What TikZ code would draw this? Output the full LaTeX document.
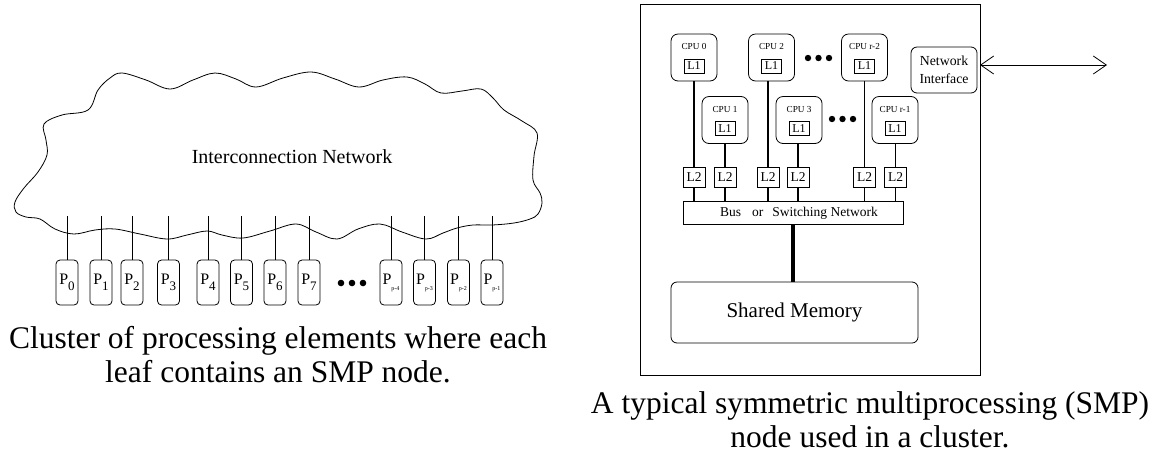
\documentclass[tikz,border=0pt]{standalone}
\usepackage{fontspec}
\setmainfont{Liberation Serif}
\usetikzlibrary{arrows.meta}

% font size helper (size = baselineskip)
\newcommand{\setfs}[1]{\fontsize{#1}{#1}\selectfont}
% processing element labels: P with a digit index or a small p-k index
\newcommand{\pdig}[1]{{\setfs{16}P}\raisebox{-6pt}{\setfs{13}#1}}
\newcommand{\pidx}[1]{{\setfs{16}P}\raisebox{-6pt}{\setfs{6}#1}}

\begin{document}
\begin{tikzpicture}[x=1pt,y=-1pt,
  every node/.style={inner sep=0pt, outer sep=0pt},
  pe/.style={draw, rounded corners=4pt, minimum width=22pt, minimum height=45pt, line width=0.8pt},
  cpu/.style={draw, rounded corners=7pt, minimum width=46pt, minimum height=47pt, line width=0.8pt},
  cpulabel/.style={font=\setfs{9.2}},
  l1box/.style={draw, minimum width=20pt, minimum height=14pt, font=\setfs{12}, line width=0.7pt},
  l2box/.style={draw, minimum width=22pt, minimum height=20pt, font=\setfs{13.5}, line width=0.7pt},
  link/.style={line width=1.8pt},
  tap/.style={line width=0.8pt},
  caption/.style={align=center, font=\fontsize{31.5}{34}\selectfont},
]
\useasboundingbox (0,0) rectangle (1158,456);

% ---------------- cluster: interconnection cloud ----------------
\draw[line width=0.8pt] plot[smooth cycle, tension=0.6] coordinates {
  (44,124) (62,115) (88,110) (98,90) (110,78) (122,73) (146,80) (170,89)
  (193,80) (215,73) (236,79) (256,87) (283,78) (311,72) (335,79) (359,87)
  (383,80) (407,77) (425,84) (441,93) (462,91) (481,89) (493,98) (504,110)
  (522,121) (537,133) (534,156) (533,180) (540,193) (542,203) (538,214)
  (530,219) (514,223) (492,225) (473,225) (457,228) (443,233) (426,239)
  (402,232) (380,224) (358,229) (337,239) (316,232) (296,224) (270,231)
  (243,238) (222,235) (207,231) (187,235) (167,239) (140,234) (115,229)
  (95,230) (74,234) (55,229) (40,219) (26,217) (16,212) (15,202) (24,188)
  (38,172) (47,155) (46,140)};
\node[font=\setfs{20}] (net) at (292,157) {Interconnection Network};

% processing elements and their taps into the network
\foreach \n/\x/\t in {0/67/\pdig{0}, 1/101/\pdig{1}, 2/132/\pdig{2}, 3/168.5/\pdig{3},
                      4/208/\pdig{4}, 5/241.5/\pdig{5}, 6/275/\pdig{6}, 7/309/\pdig{7},
                      m4/391/\pidx{p-4}, m3/424.5/\pidx{p-3}, m2/458.5/\pidx{p-2}, m1/492/\pidx{p-1}} {
  \node[pe] (p\n) at (\x,282.5) {\t};
  \coordinate (tap\n) at (\x,216);
  \draw[tap] (p\n.north) -- (tap\n);
}
\fill (341,283) circle (3.3pt) (352,283) circle (3.3pt) (363,283) circle (3.3pt);

\node[caption] (capleft) at (278,355) {Cluster of processing elements where each\\leaf contains an SMP node.};

% ---------------- SMP node ----------------
\node[draw, line width=0.8pt, minimum width=340pt, minimum height=371pt] (smp) at (810,189.5) {};

\node[draw, line width=0.8pt, minimum width=220pt, minimum height=23pt] (bus) at (793,212.5) {};
\node[font=\setfs{13.5}] (bustext) at (799,213) {Bus\hspace{11pt}or\hspace{9pt}Switching Network};

\foreach \n/\x/\y/\t/\lx in {cpu0/694/57.5/CPU 0/694, cpu1/725/120/CPU 1/725,
                             cpu2/771.5/57.5/CPU 2/768, cpu3/799/120/CPU 3/798,
                             cpur2/864.5/57.5/CPU r-2/864.5, cpur1/895/120/CPU r-1/895.5} {
  \node[cpu] (\n) at (\x,\y) {};
  \node[cpulabel] (\n-name) at (\x,{\y-11}) {\t};
  \node[l1box] (\n-l1) at (\x,{\y+8.5}) {L1};
  \node[l2box] (\n-l2) at (\lx,177) {L2};
  \draw[link] (\n.south -| \n-l2.north) -- (\n-l2.north);
  \draw[link] (\n-l2.south) -- (\n-l2.south |- bus.north);
}
\fill (808,58) circle (3.2pt) (818.5,58) circle (3.2pt) (829,58) circle (3.2pt);
\fill (832,119) circle (3.2pt) (842.5,119) circle (3.2pt) (853,119) circle (3.2pt);

\node[draw, rounded corners=6pt, line width=0.8pt, minimum width=66pt, minimum height=46pt,
      align=center, font=\fontsize{13.8}{18}\selectfont] (ni) at (944,70) {Network\\Interface};
\coordinate (wan) at (1107,65);
\draw[<->, >={Straight Barb[length=13pt,width=18pt]}, line width=0.8pt] (smp.east |- wan) -- (wan);

\node[draw, rounded corners=6pt, line width=0.8pt, minimum width=247pt, minimum height=61pt,
      font=\setfs{21}] (mem) at (794.5,312.5) {Shared Memory};
\draw[line width=4.5pt] (bus.south) -- (bus.south |- mem.north);

\node[caption] (capright) at (870,420) {A typical symmetric multiprocessing (SMP)\\node used in a cluster.};
\end{tikzpicture}
\end{document}
